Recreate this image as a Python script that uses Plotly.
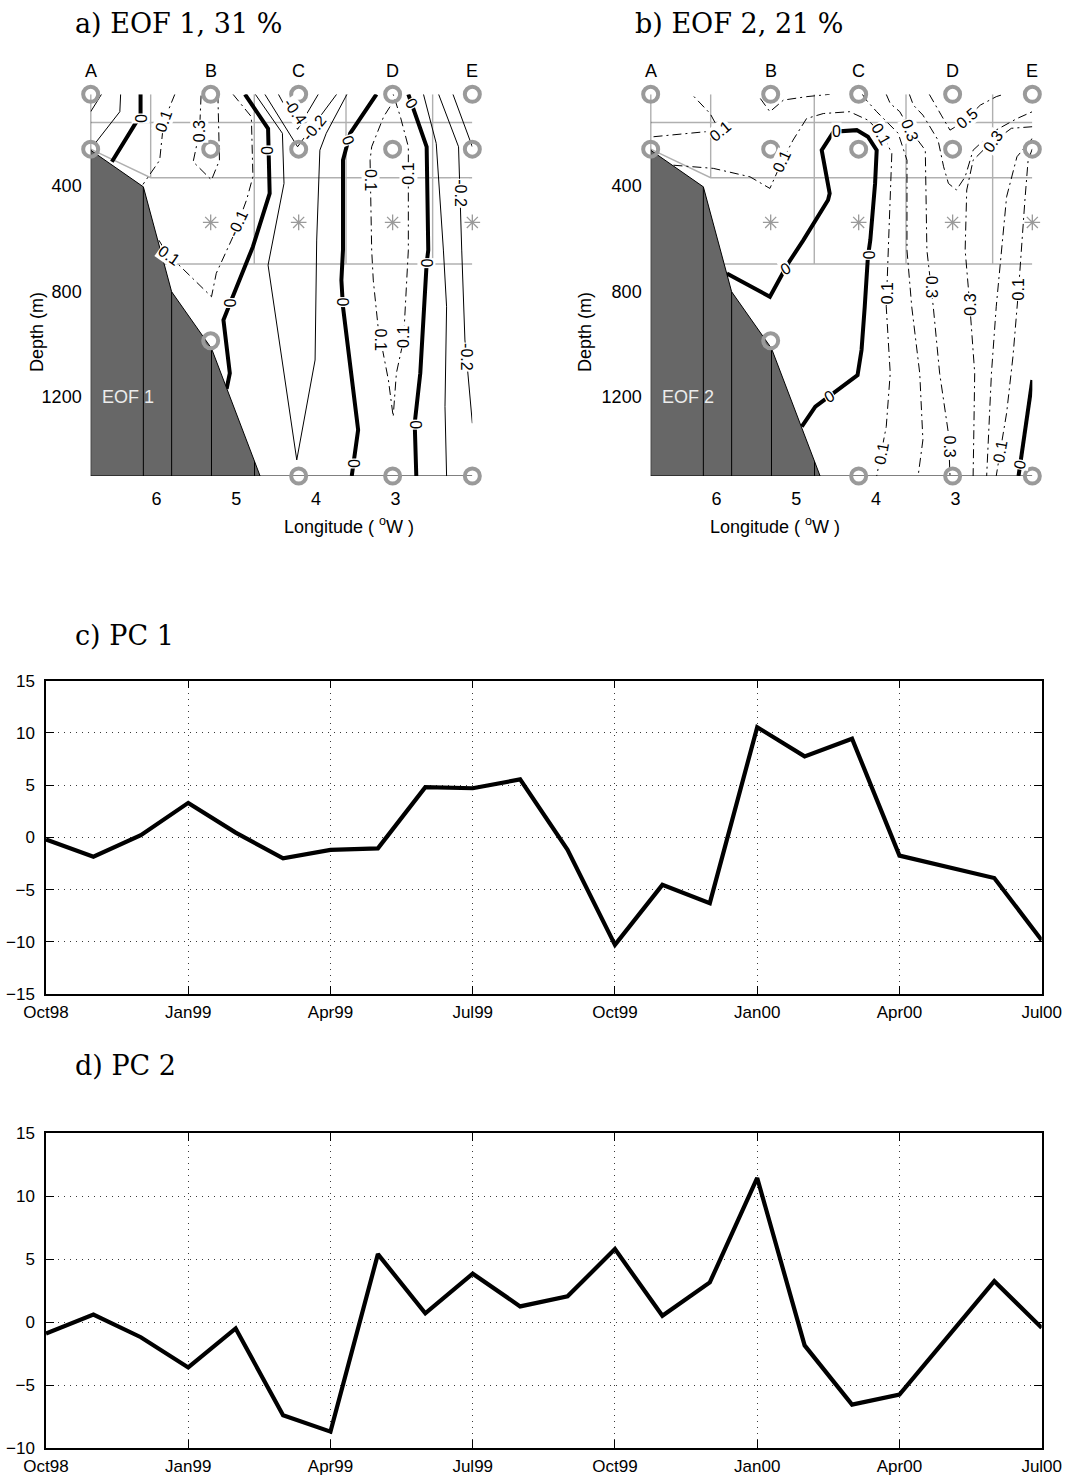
import numpy as np
import plotly.graph_objects as go

W, H = 1069, 1476
SANS = "Liberation Sans, Arial, Helvetica, sans-serif"
SERIF = "DejaVu Serif, Liberation Serif, serif"

# ---------------- principal components (monthly, Oct98 - Jul00) ----------------
months = ["Oct98", "Nov98", "Dec98", "Jan99", "Feb99", "Mar99", "Apr99", "May99",
          "Jun99", "Jul99", "Aug99", "Sep99", "Oct99", "Nov99", "Dec99", "Jan00",
          "Feb00", "Mar00", "Apr00", "May00", "Jun00", "Jul00"]
pc1 = [-0.2, -1.85, 0.2, 3.3, 0.45, -2.0, -1.2, -1.05, 4.8, 4.7, 5.55, -1.2,
       -10.3, -4.55, -6.3, 10.55, 7.75, 9.45, -1.75, -2.85, -3.9, -9.85]
pc2 = [-0.9, 0.6, -1.2, -3.6, -0.5, -7.4, -8.7, 5.4, 0.7, 3.85, 1.25, 2.05,
       5.8, 0.5, 3.15, 11.45, -1.85, -6.55, -5.75, -1.25, 3.25, -0.45]
quarter_labels = ["Oct98", "Jan99", "Apr99", "Jul99", "Oct99", "Jan00", "Apr00", "Jul00"]

# ---------------- section geometry (longitude in deg W, depth in m) ----------------
stations = ["A", "B", "C", "D", "E"]
station_lon = [6.826, 5.32, 4.216, 3.037, 2.037]
top_depth, bottom_depth = 53, 1501
meter_station = ["A", "A", "B", "B", "B", "C", "C", "C", "D", "D", "D", "E", "E", "E"]
meter_depth = [53, 261, 53, 261, 988, 53, 261, 1501, 53, 261, 1501, 53, 261, 1501]
star_station = ["B", "C", "D", "E"]
star_depth = 539

shelf_lon = [6.826, 6.165, 5.81, 5.31, 4.70]
shelf_depth = [265, 404, 802, 1017, 1501]
shelf_ticks_lon = [6.165, 5.81, 5.31, 4.77]

box_lon = [6.073, 4.773, 3.622, 2.535]
box_depth = [160, 369.5, 697]

# ---------------- EOF 1 contours ----------------
eof1_zero = [
    ([6.20, 6.20, 6.56], [53, 132, 309]),
    ([4.89, 4.60, 4.58, 4.79, 5.06, 5.16, 5.08, 5.12], [53, 183, 429, 631, 833, 909, 1111, 1170]),
    ([3.24, 3.57, 3.66, 3.66, 3.68, 3.66, 3.49, 3.47, 3.55], [53, 201, 303, 644, 758, 859, 1276, 1326, 1501]),
    ([2.84, 2.61, 2.59, 2.61, 2.69, 2.76, 2.74], [53, 252, 644, 694, 1111, 1301, 1501]),
]
eof1_solid = [
    ([6.69, 6.826], [53, 119]),
    ([6.45, 6.46, 6.77], [53, 119, 239]),
    ([4.47, 4.23, 3.97], [53, 186, 53]),
    ([4.64, 4.23, 3.74], [53, 252, 53]),
    ([4.76, 4.42, 4.40, 4.54, 4.60, 4.24, 4.01, 3.99, 3.95, 3.87, 3.61],
     [53, 201, 391, 606, 701, 1440, 1061, 606, 265, 201, 53]),
    ([2.65, 2.49, 2.40, 2.36, 2.38, 2.36], [53, 239, 644, 859, 1238, 1501]),
    ([2.46, 2.21, 2.17, 2.13, 2.037], [53, 252, 644, 985, 1301]),
    ([2.28, 2.037], [53, 252]),
]
eof1_dashdot = [
    ([5.77, 5.91, 5.96, 6.17], [53, 157, 303, 395]),
    ([5.23, 5.21, 5.31, 5.54, 5.46, 5.44], [53, 303, 378, 309, 195, 53]),
    ([5.04, 4.81, 4.79, 4.87, 5.04, 5.25, 5.31, 5.87, 6.00], [53, 138, 366, 454, 593, 732, 821, 656, 592]),
    ([3.07, 3.15, 3.30, 3.32, 3.30, 3.28, 3.22, 3.09, 3.03, 2.99, 2.90, 2.86, 2.84, 2.84, 2.94, 3.03],
     [100, 138, 252, 303, 644, 758, 934, 1137, 1276, 1111, 985, 732, 644, 252, 138, 53]),
]
eof1_labels = [
    ("0.1", 5.91, 157, -70), ("0.3", 5.46, 195, -90), ("-0.1", 4.98, 543, -65),
    ("0.1", 5.84, 664, 35), ("-0.4", 4.26, 119, 55), ("-0.2", 4.02, 178, -50),
    ("0.1", 3.32, 378, 90), ("0.1", 2.84, 353, -90), ("0.1", 3.19, 985, 90),
    ("0.1", 2.90, 975, -90), ("-0.2", 2.19, 429, 90), ("-0.2", 2.11, 1048, 90),
]
eof1_zero_marks = [
    (6.20, 145, 90), (4.61, 265, 90), (3.59, 227, 70), (2.80, 88, 60),
    (5.08, 846, 90), (3.67, 840, 90), (2.61, 694, 90), (2.76, 1307, 90), (3.53, 1453, 90),
]

# ---------------- EOF 2 contours ----------------
eof2_zero = [
    ([5.87, 5.33, 5.10, 4.91, 4.60, 4.58, 4.68, 4.53, 4.24, 4.10, 3.99, 4.01, 4.07, 4.10,
      4.14, 4.18, 4.23, 4.58, 4.76, 4.93],
     [733, 821, 694, 606, 454, 429, 265, 195, 189, 214, 265, 391, 606, 669,
      859, 1023, 1118, 1200, 1238, 1314]),
    ([2.037, 2.21], [1137, 1501]),
]
eof2_dashdot = [
    ([6.79, 6.14, 5.96, 6.08, 6.31], [214, 195, 193, 126, 53]),
    ([5.45, 5.33, 5.16, 4.87, 4.58], [69, 119, 75, 62, 53]),
    ([6.54, 6.04, 5.58, 5.33, 5.18, 5.04, 4.87, 4.66, 4.33, 4.10, 3.91, 3.80, 3.84, 3.87, 3.82, 3.87, 3.99],
     [322, 334, 366, 410, 309, 227, 145, 126, 119, 151, 208, 277, 606, 859, 1111, 1314, 1501]),
    ([4.17, 4.12, 3.99, 3.72, 3.61, 3.61, 3.55, 3.45, 3.41, 3.47],
     [53, 75, 119, 201, 303, 644, 859, 1111, 1364, 1501]),
    ([3.87, 3.82, 3.70, 3.57, 3.38, 3.36, 3.28, 3.20, 3.09, 3.07],
     [53, 88, 119, 189, 265, 644, 859, 1111, 1339, 1501]),
    ([3.58, 3.53, 3.41, 3.22, 3.15, 3.09, 2.99, 2.88, 2.78, 2.53, 2.23, 2.037],
     [53, 94, 132, 227, 328, 391, 416, 366, 265, 195, 145, 119]),
    ([3.33, 3.28, 3.18, 3.07, 2.90, 2.69, 2.49, 2.40], [53, 81, 132, 189, 157, 94, 62, 53]),
    ([2.037, 2.30, 2.61, 2.78, 2.86, 2.88, 2.82, 2.76, 2.77, 2.78],
     [176, 182, 252, 303, 416, 644, 859, 1111, 1314, 1501]),
    ([2.037, 2.23, 2.36, 2.42, 2.49, 2.55, 2.59, 2.61], [220, 290, 442, 644, 859, 1111, 1364, 1501]),
    ([2.037, 2.09, 2.13, 2.17, 2.21, 2.28, 2.36, 2.44, 2.49], [260, 303, 454, 644, 795, 1048, 1263, 1408, 1501]),
]
eof2_labels = [
    ("0.1", 5.96, 193, -40), ("0.1", 5.18, 309, -65), ("0.1", 3.93, 205, 60),
    ("0.3", 3.57, 189, 70), ("0.5", 2.86, 145, -40), ("0.3", 2.53, 232, -55),
    ("0.1", 3.86, 808, -90), ("0.3", 3.31, 783, 90), ("0.3", 2.81, 852, -90),
    ("0.1", 2.21, 795, -90), ("0.1", 3.93, 1415, -80), ("0.3", 3.08, 1390, 90),
    ("0.1", 2.44, 1408, -80),
]
eof2_zero_marks = [
    (4.50, 193, 0), (5.13, 713, -30), (4.09, 663, 90), (4.58, 1200, -30), (2.19, 1459, -80),
]

# ---------------- layout frame (paper fractions) ----------------
sec_y = [1 - 476 / H, 1 - 94.3 / H]
sec_a_x = [90.67 / W, 472.33 / W]
sec_b_x = [650.67 / W, 1032.33 / W]
pc_x = [46 / W, 1041.7 / W]
pc1_y = [1 - 994 / H, 1 - 680.7 / H]
pc2_y = [1 - 1448 / H, 1 - 1133.3 / H]

fig = go.Figure()
lon_of = dict(zip(stations, station_lon))


def line_trace(xs, ys, xa, ya, color="black", width=1.0, dash="solid", **kw):
    return go.Scatter(x=xs, y=ys, xaxis=xa, yaxis=ya, mode="lines",
                      line=dict(color=color, width=width, dash=dash),
                      hoverinfo="skip", showlegend=False, cliponaxis=False, **kw)


def segments(pairs):
    xs, ys = [], []
    for lo, de in pairs:
        xs += list(lo) + [None]
        ys += list(de) + [None]
    return xs, ys


def draw_section(xa, ya, zero, solid, dashdot, labels, marks, tag):
    xref, yref = xa, ya
    west, east = station_lon[0], station_lon[-1]
    deep_left = float(np.interp(box_depth[2], shelf_depth, shelf_lon))
    # transport boxes
    boxes = [
        ([west, east], [box_depth[0]] * 2),
        ([west, box_lon[0], east], [261, box_depth[1], box_depth[1]]),
        ([deep_left, east], [box_depth[2]] * 2),
        ([box_lon[0]] * 2, [top_depth, box_depth[1]]),
    ] + [([lo, lo], [top_depth, box_depth[2]]) for lo in box_lon[1:]]
    bx, by = segments(boxes)
    fig.add_trace(line_trace(bx, by, xa, ya, color="#b0b0b0", width=1.4))

    if solid:
        sx, sy = segments(solid)
        fig.add_trace(line_trace(sx, sy, xa, ya, width=1.0))
    dx, dy = segments(dashdot)
    fig.add_trace(line_trace(dx, dy, xa, ya, width=1.0, dash="9px,4px,2px,4px"))
    zx, zy = segments(zero)
    fig.add_trace(line_trace(zx, zy, xa, ya, width=4.0))

    # continental slope
    fig.add_trace(go.Scatter(
        x=shelf_lon + [west, west], y=shelf_depth + [bottom_depth, shelf_depth[0]],
        xaxis=xa, yaxis=ya, mode="lines", fill="toself", fillcolor="#676767",
        line=dict(color="black", width=1), hoverinfo="skip", showlegend=False))
    edge = [(lo, float(np.interp(lo, shelf_lon[::-1], shelf_depth[::-1]))) for lo in shelf_ticks_lon]
    frame = [([lo, lo], [d, bottom_depth]) for lo, d in edge]
    frame += [([west, west], [top_depth, shelf_depth[0]]),
              ([shelf_lon[-1], east], [bottom_depth, bottom_depth])]
    fx, fy = segments(frame)
    fig.add_trace(line_trace(fx, fy, xa, ya, width=1.0))

    # instruments
    fig.add_trace(go.Scatter(
        x=[lon_of[s] for s in meter_station], y=meter_depth, xaxis=xa, yaxis=ya,
        mode="markers", cliponaxis=False, hoverinfo="skip", showlegend=False,
        marker=dict(symbol="circle-open", size=15, color="#9a9a9a",
                    line=dict(width=4, color="#9a9a9a"))))
    fig.add_trace(go.Scatter(
        x=[lon_of[s] for s in star_station], y=[star_depth] * len(star_station),
        xaxis=xa, yaxis=ya, mode="markers", cliponaxis=False, hoverinfo="skip",
        showlegend=False,
        marker=dict(symbol="asterisk-open", size=13, color="#9a9a9a",
                    line=dict(width=1.3, color="#9a9a9a"))))

    for s, lo in zip(stations, station_lon):
        fig.add_annotation(x=lo, y=top_depth, xref=xref, yref=yref, text=s,
                           showarrow=False, yshift=23,
                           font=dict(family=SANS, size=18, color="black"))
    for txt, lo, de, ang in labels:
        fig.add_annotation(x=lo, y=de, xref=xref, yref=yref, text=txt, textangle=ang,
                           showarrow=False, bgcolor="white", borderpad=0,
                           font=dict(family=SANS, size=16, color="black"))
    for lo, de, ang in marks:
        fig.add_annotation(x=lo, y=de, xref=xref, yref=yref, text="0", textangle=ang,
                           showarrow=False, bgcolor="white", borderpad=0,
                           font=dict(family=SANS, size=16, color="black"))
    fig.add_annotation(x=6.36, y=1200, xref=xref, yref=yref, text=tag, showarrow=False,
                       font=dict(family=SANS, size=18, color="#ececec"))


draw_section("x", "y", eof1_zero, eof1_solid, eof1_dashdot, eof1_labels, eof1_zero_marks, "EOF 1")
draw_section("x2", "y2", eof2_zero, [], eof2_dashdot, eof2_labels, eof2_zero_marks, "EOF 2")

# time series
idx = list(range(len(months)))
fig.add_trace(line_trace(idx, pc1, "x3", "y3", width=4.2))
fig.add_trace(line_trace(idx, pc2, "x4", "y4", width=4.2))

sec_xaxis = dict(range=[station_lon[0], station_lon[-1]], tickvals=[6, 5, 4, 3],
                 ticktext=["6", "5", "4", "3"], showline=False, showgrid=False,
                 zeroline=False, ticks="", ticklabelstandoff=10, automargin=False,
                 tickfont=dict(family=SANS, size=18, color="black"))
sec_yaxis = dict(range=[bottom_depth, top_depth], tickvals=[400, 800, 1200],
                 showline=False, showgrid=False, zeroline=False, ticks="", automargin=False,
                 ticklabelstandoff=8, tickfont=dict(family=SANS, size=18, color="black"))

quarter_idx = [months.index(m) for m in quarter_labels]
pc_xaxis = dict(range=[0, len(months) - 1], tickvals=quarter_idx, ticktext=quarter_labels,
                showline=True, mirror="ticks", linecolor="black", linewidth=1.5,
                ticks="inside", ticklen=8, tickcolor="black", tickwidth=1,
                showgrid=True, gridcolor="#3a3a3a", gridwidth=1, griddash="1px,5px",
                zeroline=False, ticklabelstandoff=2, automargin=False,
                tickfont=dict(family=SANS, size=17, color="black"))
pc_yaxis = dict(showline=True, mirror="ticks", linecolor="black", linewidth=1.5,
                ticks="inside", ticklen=8, tickcolor="black", tickwidth=1,
                showgrid=True, gridcolor="#3a3a3a", gridwidth=1, griddash="1px,5px",
                zeroline=False, ticklabelstandoff=6, automargin=False,
                tickfont=dict(family=SANS, size=17, color="black"))

fig.update_layout(
    width=W, height=H, margin=dict(l=0, r=0, t=0, b=0, autoexpand=False),
    paper_bgcolor="white", plot_bgcolor="white", showlegend=False,
    xaxis=dict(domain=sec_a_x, anchor="y", **sec_xaxis),
    yaxis=dict(domain=sec_y, anchor="x", **sec_yaxis),
    xaxis2=dict(domain=sec_b_x, anchor="y2", **sec_xaxis),
    yaxis2=dict(domain=sec_y, anchor="x2", **sec_yaxis),
    xaxis3=dict(domain=pc_x, anchor="y3", **pc_xaxis),
    yaxis3=dict(domain=pc1_y, anchor="x3", range=[-15, 15],
                tickvals=[-15, -10, -5, 0, 5, 10, 15], **pc_yaxis),
    xaxis4=dict(domain=pc_x, anchor="y4", **pc_xaxis),
    yaxis4=dict(domain=pc2_y, anchor="x4", range=[-10, 15],
                tickvals=[-10, -5, 0, 5, 10, 15], **pc_yaxis),
)

# panel titles
titles = [("a) EOF 1, 31 %", 73, 23), ("b) EOF 2, 21 %", 633, 23),
          ("c) PC 1", 73, 635), ("d) PC 2", 73, 1065)]
for txt, px, py in titles:
    fig.add_annotation(x=px / W, y=1 - py / H, xref="paper", yref="paper", text=txt,
                       xanchor="left", yanchor="middle", showarrow=False,
                       font=dict(family=SERIF, size=27, color="black"))

# axis titles of the sections
for cx, dx in [(281.5, 25), (841.5, 585)]:
    fig.add_annotation(x=cx / W, y=1 - 525 / H, xref="paper", yref="paper",
                       text="Longitude ( <sup>o</sup>W )", showarrow=False,
                       font=dict(family=SANS, size=18, color="black"))
    fig.add_annotation(x=dx / W, y=1 - 290 / H, xref="paper", yref="paper",
                       text="Depth (m)", textangle=-90, showarrow=False,
                       font=dict(family=SANS, size=18, color="black"))

fig.write_html("out.html")
